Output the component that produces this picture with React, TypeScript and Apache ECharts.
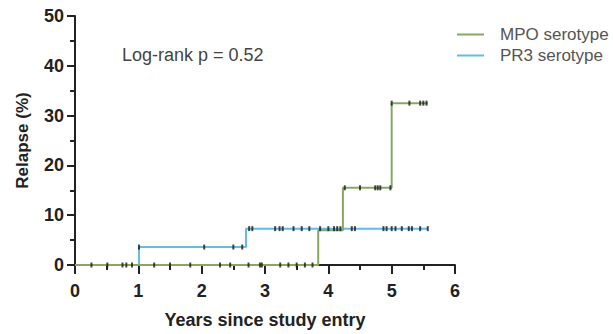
import React, { useEffect, useRef } from "react";
import * as echarts from "echarts";

// Kaplan-Meier step points [years, relapse %]
const mpoSteps: [number, number][] = [
  [0, 0], [3.84, 7.0], [4.23, 15.5], [5.0, 32.5], [5.57, 32.5],
];
const pr3Steps: [number, number][] = [
  [0, 0], [1.01, 3.6], [2.7, 7.3], [5.57, 7.3],
];
// Censoring times (years)
const mpoCensors = [
  0.26, 0.51, 0.75, 0.81, 0.9, 1.25, 1.5, 1.82, 2.29, 2.45, 2.74, 2.92, 2.95,
  3.24, 3.37, 3.5, 3.63, 3.75, 4.26, 4.5, 4.74, 4.78, 4.82, 4.98, 5.0, 5.28,
  5.45, 5.5, 5.55,
];
const pr3Censors = [
  1.01, 2.04, 2.5, 2.64, 2.75, 2.8, 3.16, 3.23, 3.28, 3.45, 3.58, 3.7, 3.87,
  4.0, 4.09, 4.14, 4.19, 4.37, 4.42, 4.87, 4.92, 5.0, 5.06, 5.16, 5.27, 5.32,
  5.45, 5.57,
];
const seriesNames = ["MPO serotype", "PR3 serotype"];
const annotation = "Log-rank p = 0.52";

function valueAt(steps: [number, number][], t: number): number {
  let v = steps[0][1];
  for (const [x, y] of steps) {
    if (x <= t) v = y;
  }
  return v;
}

const FONT = "Liberation Sans, Arial, sans-serif";

export default function App() {
  const ref = useRef<HTMLDivElement>(null);
  useEffect(() => {
    if (!ref.current) return;
    const chart = echarts.init(ref.current, undefined, { renderer: "svg" });
    const green = "#86a864";
    const blue = "#62bde0";
    const censorStyle = {
      type: "scatter" as const,
      symbol: "rect",
      symbolSize: [2, 5],
      itemStyle: { color: "#1a1a1a" },
      z: 6,
      silent: true,
    };
    const axisColor = "#222";
    chart.setOption({
      animation: false,
      textStyle: { fontFamily: FONT },
      grid: { left: 75, right: 158, top: 16, bottom: 67 },
      legend: {
        data: seriesNames,
        orient: "vertical",
        left: 452,
        top: 21,
        itemWidth: 27,
        itemHeight: 2,
        itemGap: 4,
        icon: "rect",
        textStyle: { fontSize: 17, color: "#555", fontFamily: FONT, padding: [0, 0, 0, 11] },
      },
      xAxis: {
        type: "value",
        min: 0,
        max: 6,
        interval: 1,
        name: "Years since study entry",
        nameLocation: "middle",
        nameGap: 46,
        nameTextStyle: { fontSize: 18, fontWeight: "bold", color: axisColor, fontFamily: FONT },
        axisLine: { lineStyle: { color: axisColor, width: 2 } },
        axisTick: { length: 9, lineStyle: { color: axisColor, width: 2 } },
        minorTick: { show: true, splitNumber: 2, length: 5, lineStyle: { color: axisColor, width: 2 } },
        splitLine: { show: false },
        axisLabel: { fontSize: 18, fontWeight: "bold", color: axisColor, margin: 17, fontFamily: FONT },
      },
      yAxis: {
        type: "value",
        min: 0,
        max: 50,
        interval: 10,
        name: "Relapse (%)",
        nameLocation: "middle",
        nameGap: 44,
        nameTextStyle: { fontSize: 17, fontWeight: "bold", color: axisColor, fontFamily: FONT },
        axisLine: { show: true, lineStyle: { color: axisColor, width: 2 } },
        axisTick: { show: true, length: 8, lineStyle: { color: axisColor, width: 2 } },
        minorTick: { show: true, splitNumber: 2, length: 5, lineStyle: { color: axisColor, width: 2 } },
        splitLine: { show: false },
        axisLabel: { fontSize: 18, fontWeight: "bold", color: axisColor, margin: 11, fontFamily: FONT },
      },
      graphic: [
        {
          type: "text",
          left: 122,
          top: 46,
          style: { text: annotation, fontSize: 18, fill: "#444", fontFamily: FONT },
        },
      ],
      series: [
        {
          name: seriesNames[1],
          type: "line",
          step: "end",
          data: pr3Steps,
          showSymbol: false,
          lineStyle: { color: blue, width: 2 },
          itemStyle: { color: blue },
          z: 3,
        },
        {
          name: seriesNames[0],
          type: "line",
          step: "end",
          data: mpoSteps,
          showSymbol: false,
          lineStyle: { color: green, width: 2 },
          itemStyle: { color: green },
          z: 4,
        },
        {
          ...censorStyle,
          name: "MPO censored",
          data: mpoCensors.map((t) => [t, valueAt(mpoSteps, t)]),
        },
        {
          ...censorStyle,
          name: "PR3 censored",
          data: pr3Censors.map((t) => [t, valueAt(pr3Steps, t)]),
        },
      ],
    });
    return () => chart.dispose();
  }, []);
  return <div ref={ref} style={{ width: 613, height: 334, position: "absolute", left: 0, top: 0 }} />;
}
